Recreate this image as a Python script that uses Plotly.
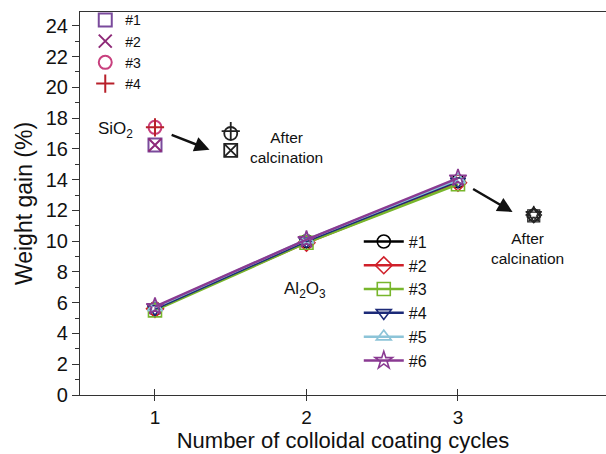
import plotly.graph_objects as go

# ---- data ----
cycles = [1, 2, 3]
al_names = ["#1", "#2", "#3", "#4", "#5", "#6"]
al_values = [
    [5.6, 10.0, 13.9],
    [5.6, 9.9, 13.8],
    [5.5, 9.9, 13.7],
    [5.6, 10.0, 13.9],
    [5.7, 10.1, 14.0],
    [5.75, 10.1, 14.1],
]
al_colors = ["#000000", "#d0202a", "#78b62c", "#1c2a78", "#8cc4d8", "#8a3a92"]
al_symbols = ["circle-open", "diamond-open", "square-open", "triangle-down-open",
              "triangle-up-open", "star-open"]
al_calc_x = 3.5
al_calc_values = [11.7, 11.7, 11.65, 11.7, 11.75, 11.75]

si_names = ["#1", "#2", "#3", "#4"]
si_x = 1
si_values = [16.25, 16.25, 17.4, 17.4]
si_colors = ["#7a4a9c", "#8e2a78", "#c8407e", "#b8202a"]
si_symbols = ["square-open", "x-thin-open", "circle-open", "cross-thin-open"]
si_calc_x = 1.5
si_calc_values = [15.9, 15.9, 17.0, 17.15]

FONT = "Liberation Sans, Arial, sans-serif"

fig = go.Figure()

# SiO2 points
for n, v, c, s in zip(si_names, si_values, si_colors, si_symbols):
    fig.add_trace(go.Scatter(
        x=[si_x], y=[v], mode="markers", name=n, legend="legend",
        marker=dict(symbol=s, size=13, color=c, line=dict(width=2, color=c)),
    ))
for v, s in zip(si_calc_values, si_symbols):
    fig.add_trace(go.Scatter(
        x=[si_calc_x], y=[v], mode="markers", showlegend=False,
        marker=dict(symbol=s, size=13, color="#222", line=dict(width=1.8, color="#222")),
    ))

# Al2O3 series
for n, vals, c, s in zip(al_names, al_values, al_colors, al_symbols):
    fig.add_trace(go.Scatter(
        x=cycles, y=vals, mode="lines+markers", name=n, legend="legend2",
        line=dict(color=c, width=2.5),
        marker=dict(symbol=s, size=13, color=c, line=dict(width=1.6, color=c)),
    ))
for v, s in zip(al_calc_values, al_symbols):
    fig.add_trace(go.Scatter(
        x=[al_calc_x], y=[v], mode="markers", showlegend=False,
        marker=dict(symbol=s, size=12, color="#222", line=dict(width=1.2, color="#222")),
    ))

# dummy trace for the cross-tick overlay axis
fig.add_trace(go.Scatter(x=[None], y=[None], xaxis="x2", showlegend=False, hoverinfo="skip"))

ann_font = dict(family=FONT, size=15.5, color="#111")
fig.update_layout(
    width=606, height=454,
    margin=dict(l=80, r=0, t=12, b=59),
    paper_bgcolor="white", plot_bgcolor="white",
    font=dict(family=FONT, color="#111"),
    xaxis=dict(
        range=[0.505, 3.977], tickvals=[1, 2, 3], ticktext=["1", "2", "3"],
        showline=True, linecolor="#333", linewidth=1.2, mirror=True,
        ticks="outside", ticklen=5, tickwidth=1.2, tickcolor="#333",
        showgrid=False, zeroline=False,
        tickfont=dict(size=19, family=FONT, color="#111"),
        title=dict(text="Number of colloidal coating cycles",
                   font=dict(size=22, family=FONT, color="#111"), standoff=2),
    ),
    xaxis2=dict(
        overlaying="x", matches="x", range=[0.505, 3.977], tickvals=[1, 2, 3],
        showticklabels=False, ticks="inside", ticklen=6, tickwidth=1.2, tickcolor="#333",
        showgrid=False, zeroline=False, showline=False, side="bottom",
    ),
    yaxis=dict(
        range=[0, 24.9], tickvals=list(range(0, 25, 2)),
        showline=True, linecolor="#333", linewidth=1.2,
        ticks="outside", ticklen=7, tickwidth=1.2, tickcolor="#333",
        minor=dict(dtick=1, ticks="outside", ticklen=4, tickcolor="#333", tickwidth=1),
        showgrid=False, zeroline=False,
        tickfont=dict(size=20, family=FONT, color="#111"),
        title=dict(text="Weight gain (%)", font=dict(size=23, family=FONT, color="#111"),
                   standoff=6),
    ),
    legend=dict(
        x=0.01, y=1.02, xanchor="left", yanchor="top",
        bgcolor="rgba(0,0,0,0)", font=dict(size=14, family=FONT, color="#111"),
        tracegroupgap=0, itemwidth=30,
    ),
    legend2=dict(
        x=0.53, y=0.445, xanchor="left", yanchor="top",
        bgcolor="rgba(0,0,0,0)", font=dict(size=16, family=FONT, color="#111"),
        tracegroupgap=0, itemwidth=40,
    ),
    annotations=[
        dict(x=1.36, y=15.95, ax=1.1, ay=16.95, xref="x", yref="y", axref="x", ayref="y",
             showarrow=True, arrowhead=2, arrowsize=1.2, arrowwidth=2.5, arrowcolor="#111", text=""),
        dict(x=3.36, y=11.9, ax=3.09, ay=13.45, xref="x", yref="y", axref="x", ayref="y",
             showarrow=True, arrowhead=2, arrowsize=1.2, arrowwidth=2.5, arrowcolor="#111", text=""),
        dict(x=0.74, y=17.2, xref="x", yref="y", text="SiO<sub>2</sub>", showarrow=False,
             font=dict(size=17, family=FONT, color="#111")),
        dict(x=1.87, y=16.06, xref="x", yref="y", text="After<br>calcination", showarrow=False,
             font=ann_font),
        dict(x=3.46, y=9.5, xref="x", yref="y", text="After<br>calcination", showarrow=False,
             font=ann_font),
        dict(x=1.99, y=6.8, xref="x", yref="y", text="Al<sub>2</sub>O<sub>3</sub>", showarrow=False,
             font=dict(size=17, family=FONT, color="#111")),
    ],
)

fig.write_html("out.html")
